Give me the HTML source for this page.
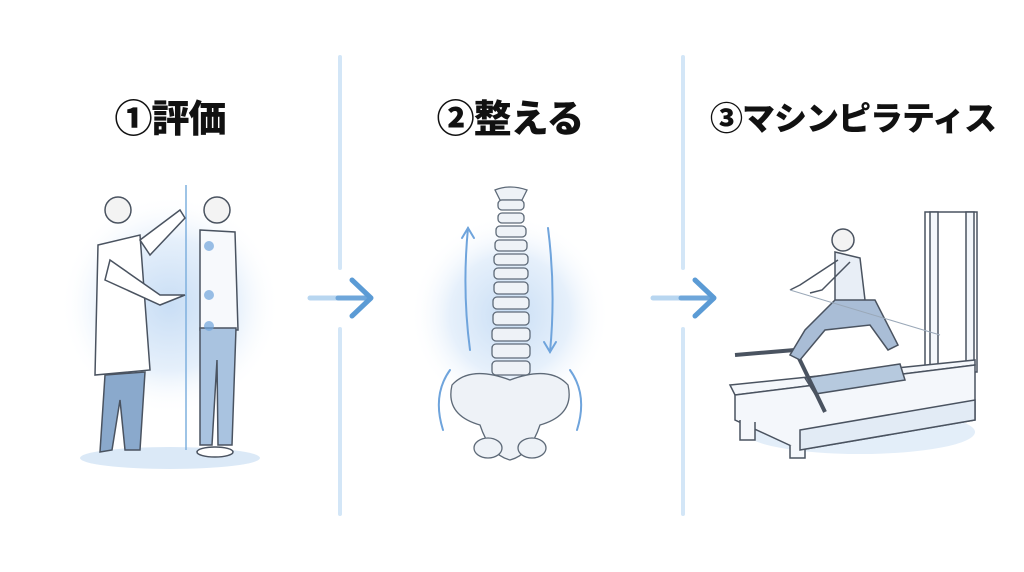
<!DOCTYPE html>
<html><head><meta charset="utf-8"><style>
html,body{margin:0;padding:0;background:#fff;}
body{width:1024px;height:572px;position:relative;overflow:hidden;font-family:"Liberation Sans","Noto Sans CJK JP",sans-serif;}
.t{position:absolute;top:88px;font-weight:900;font-size:38px;color:#111;white-space:nowrap;transform:translateX(-50%);letter-spacing:-1px;}
svg{position:absolute;left:0;top:0;}
</style></head><body>
<svg width="1024" height="572" viewBox="0 0 1024 572">
<defs>
<radialGradient id="g" cx="50%" cy="50%" r="50%"><stop offset="0" stop-color="#c9def5"/><stop offset=".6" stop-color="#e6f0fb"/><stop offset="1" stop-color="#fff" stop-opacity="0"/></radialGradient>
</defs>
<g stroke="#d3e6f7" stroke-width="4" stroke-linecap="round">
<line x1="340" y1="57" x2="340" y2="268"/><line x1="340" y1="329" x2="340" y2="514"/>
<line x1="683" y1="57" x2="683" y2="268"/><line x1="683" y1="329" x2="683" y2="514"/>
</g>
<g stroke-width="5" fill="none" stroke-linecap="round" stroke-linejoin="round">
<line x1="310" y1="298" x2="340" y2="298" stroke="#b8d6f0"/><line x1="338" y1="298" x2="370" y2="298" stroke="#6ea6da"/><polyline points="352,280 371,298 352,316" stroke="#5b9bd5"/>
<line x1="653" y1="298" x2="683" y2="298" stroke="#b8d6f0"/><line x1="681" y1="298" x2="713" y2="298" stroke="#6ea6da"/><polyline points="695,280 714,298 695,316" stroke="#5b9bd5"/>
</g>
<!-- glows -->
<circle cx="170" cy="305" r="110" fill="url(#g)"/>
<ellipse cx="170" cy="458" rx="90" ry="11" fill="#dbe9f7"/>
<circle cx="510" cy="315" r="100" fill="url(#g)"/>
<ellipse cx="860" cy="432" rx="115" ry="22" fill="#e3eef9"/>
<!-- panel 1 -->
<g stroke="#4a5360" stroke-width="1.5" fill="#fff">
<line x1="186" y1="185" x2="186" y2="450" stroke="#7fb0de"/>
<circle cx="118" cy="210" r="13" fill="#f3f3f3"/>
<path d="M98 245 L140 235 L150 370 L95 375 Z"/>
<path d="M105 375 L145 372 L140 450 L125 450 L120 400 L112 450 L100 452 Z" fill="#8aa9cc"/>
<path d="M140 240 L180 210 L185 218 L150 255 Z"/>
<path d="M110 260 L160 295 L185 295 L160 305 L105 280 Z"/>
<circle cx="217" cy="210" r="13" fill="#f3f3f3"/>
<path d="M200 230 L235 232 L238 330 L200 330 Z" fill="#f7f9fc"/>
<path d="M200 328 L236 328 L232 445 L218 445 L217 360 L212 445 L200 445 Z" fill="#a9c3e0"/>
<ellipse cx="215" cy="452" rx="18" ry="5" fill="#fff"/>
</g>
<g fill="#6fa4dc" opacity=".7"><circle cx="209" cy="246" r="5"/><circle cx="209" cy="295" r="5"/><circle cx="209" cy="326" r="5"/></g>
<!-- panel 2 -->
<g stroke="#5e6a78" stroke-width="1.3" fill="#eef2f7">
<path d="M495 190 Q510 184 527 190 L522 200 L500 200 Z"/>
<rect x="498" y="200" width="26" height="10" rx="4"/><rect x="498" y="213" width="26" height="10" rx="4"/>
<rect x="496" y="226" width="30" height="11" rx="4"/><rect x="495" y="240" width="32" height="11" rx="4"/>
<rect x="494" y="254" width="34" height="11" rx="4"/><rect x="494" y="268" width="34" height="11" rx="4"/>
<rect x="494" y="282" width="34" height="12" rx="4"/><rect x="493" y="297" width="36" height="12" rx="4"/>
<rect x="493" y="312" width="36" height="13" rx="4"/><rect x="492" y="328" width="38" height="13" rx="4"/>
<rect x="492" y="344" width="38" height="14" rx="4"/><rect x="492" y="361" width="38" height="14" rx="4"/>
<path d="M510 380 Q470 365 452 385 Q445 415 480 425 Q490 455 510 460 Q530 455 540 425 Q575 415 568 385 Q550 365 510 380 Z"/>
<ellipse cx="488" cy="448" rx="14" ry="10"/><ellipse cx="532" cy="448" rx="14" ry="10"/>
</g>
<g stroke="#6fa4dc" stroke-width="2" fill="none" stroke-linecap="round">
<path d="M470 350 Q462 290 468 228"/><polyline points="462,238 468,228 474,238"/>
<path d="M548 228 Q556 290 550 352"/><polyline points="544,342 550,352 556,342"/>
<path d="M443 430 Q432 395 450 370"/><path d="M577 430 Q588 395 570 370"/>
</g>
<!-- panel 3: reformer -->
<g stroke="#4a5360" stroke-width="1.5" fill="#f4f7fb">
<rect x="925" y="212" width="52" height="160" fill="none"/>
<rect x="930" y="212" width="8" height="160"/><rect x="966" y="212" width="8" height="160"/>
<path d="M730 385 L735 395 L975 365 L975 360 Z"/>
<path d="M735 395 L975 365 L975 420 L800 450 L735 420 Z"/>
<path d="M740 420 L740 440 L755 440 L755 422"/><path d="M790 445 L790 458 L805 458 L805 448"/>
<path d="M800 430 L975 400 L975 420 L800 450 Z" fill="#e2ebf5"/>
<path d="M805 378 L900 364 L905 380 L815 394 Z" fill="#b6c9de"/>
<path d="M735 355 L795 350 L825 412" fill="none" stroke-width="4"/>
<circle cx="843" cy="240" r="11" fill="#f3f3f3"/>
<path d="M835 252 L860 258 L865 300 L835 305 Z" fill="#e8eef6"/>
<path d="M835 300 L805 330 L790 355 L800 360 L825 330 L870 325 L888 350 L898 345 L875 300 Z" fill="#a9bdd6"/>
<path d="M838 260 L800 285 L790 290" fill="none"/><path d="M850 262 L822 290 L810 293" fill="none"/>
</g>
<line x1="790" y1="290" x2="940" y2="335" stroke="#9aa8b8" stroke-width="1"/>
</svg>
<div class="t" style="left:170px">①評価</div>
<div class="t" style="left:510px">②整える</div>
<div class="t" style="left:853px;font-size:33px;top:92px">③マシンピラティス</div>
</body></html>
